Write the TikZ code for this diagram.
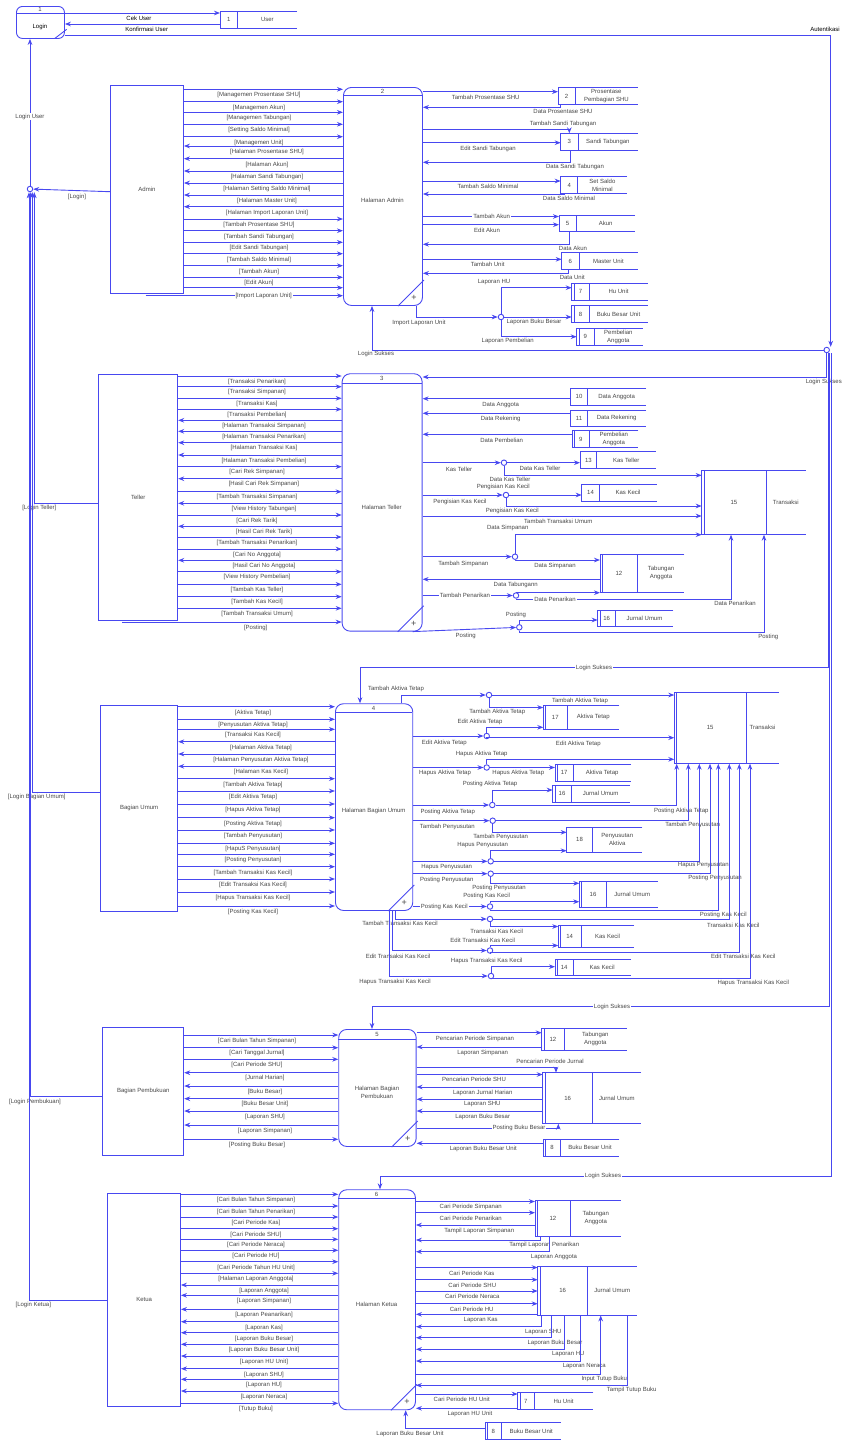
\documentclass[tikz,border=0pt]{standalone}
\usepackage{fontspec}
\setmainfont{Liberation Sans}
\usetikzlibrary{arrows.meta}
\definecolor{lc}{RGB}{72,72,240}
\definecolor{tc}{RGB}{70,70,70}
\tikzset{
 ln/.style={draw=lc, line width=0.9pt},
 fl/.style={ln, -{Stealth[length=6pt,width=4.6pt]}},
 flb/.style={ln, {Stealth[length=6pt,width=4.6pt]}-},
 txt/.style={font=\fontsize{6}{8}\selectfont, text=tc, inner sep=0pt},
 labw/.style={txt, fill=white, inner xsep=1pt, inner ysep=0.6pt},
 junc/.style={circle, draw=lc, line width=0.9pt, fill=white, minimum size=5.5pt, inner sep=0pt},
 ent/.style={draw=lc, line width=0.9pt, inner sep=0pt, font=\fontsize{6}{8}\selectfont, text=tc},
 procbox/.style={draw=lc, line width=0.9pt, rounded corners=8pt, inner sep=0pt},
}
\newcommand\lbl[3]{\node[txt] at (#1,#2) {#3};}
\newcommand\lblw[3]{\node[labw] at (#1,#2) {#3};}
\newcommand\dent[6]{\node[ent, minimum width={#4pt-#2pt}, minimum height={#5pt-#3pt}, anchor=north west] (#1) at (#2,#3) {#6};}
\newcommand\dproc[8]{%
 \node[procbox, minimum width={#4pt-#2pt}, minimum height={#5pt-#3pt}, anchor=north west] (#1) at (#2,#3) {};
 \draw[ln] (#2,#8) -- (#4,#8);
 \node[txt] at ({(#2+#4)/2},{(#3+#8)/2}) {#6};
 \node[txt, align=center] at ({(#2+#4)/2},{(#8+#5)/2}) {#7};
 \draw[ln] ({#4-24},{#5+1}) -- ({#4+2},{#5-25});
 \node[txt, font=\fontsize{9}{9}\selectfont] at ({#4-8},{#5-7}) {+};
}
\newcommand\dstore[9]{%
 \node[inner sep=0pt, minimum width={#4pt-#2pt}, minimum height={#5pt-#3pt}, anchor=north west] (#1) at (#2,#3) {};
 \draw[ln] (#4,#3) -- (#2,#3) -- (#2,#5) -- (#4,#5);
 \draw[ln] (#6,#3) -- (#6,#5);
 \ifnum#9=1 \draw[ln] ({#2+2.5},#3) -- ({#2+2.5},#5);\fi
 \node[txt] at ({(#2+#6)/2},{(#3+#5)/2}) {#7};
 \node[txt, align=center] at ({(#6+#4)/2},{(#3+#5)/2}) {#8};
}
\newcommand\bundle[7]{%
 \foreach \y/\t in {#3}{\draw[fl] (#1.east|-0,\y) -- (#2.west|-0,\y); \node[txt] at (#5,\y+#7) {\t};}
 \foreach \y/\t in {#4}{\draw[flb] (#1.east|-0,\y) -- (#2.west|-0,\y); \node[txt] at (#6,\y+#7) {\t};}
}
\begin{document}
\begin{tikzpicture}[x=1pt,y=-1pt]
\useasboundingbox (0,0) rectangle (843,1441);
% ===== Login
\node[procbox, rounded corners=6pt, minimum width=48pt, minimum height=32pt, anchor=north west] (login) at (16,6) {};
\draw[ln] (16,13) -- (64,13);
\lbl{40}{9.6}{1}
\node[txt, text=black] at (40,27) {Login};
\draw[ln] (55,38.3) -- (66.7,29.3);
\dstore{ds1}{220}{11}{297}{28}{237.7}{1}{User}{0}
\draw[fl] (login.east|-0,13) -- (ds1.west|-0,13);
\node[txt, text=black] at (139,18.7) {Cek User};
\draw[flb] (login.east|-0,24) -- (ds1.west|-0,24);
\node[txt, text=black] at (146.7,29.3) {Konfirmasi User};
\node[junc] (jL) at (30,189) {};
\node[junc] (jR) at (826.7,350) {};
\draw[fl] (login.east|-0,35) -| ([xshift=4pt]jR.north);
\node[txt, text=black] at (825,29.3) {Autentikasi};
\draw[fl] (jL) -- (jL|-login.south);
\lblw{30}{116.7}{Login User}

% ===== Admin
\dent{admin}{110}{85}{183}{293.3}{Admin}
\dproc{p2}{343}{87}{422}{305}{2}{Halaman Admin}{95}
\bundle{admin}{p2}{89.3/{[Managemen Prosentase SHU]},101.7/{[Managemen Akun]},112.3/{[Managemen Tabungan]},124.3/{[Setting Saldo Minimal]},136.7/{[Managemen Unit]},219/{[Tambah Prosentase SHU]},230.7/{[Tambah Sandi Tabungan]},242.3/{[Edit Sandi Tabungan]},253.7/{[Tambah Saldo Minimal]},265.7/{[Tambah Akun]},277.3/{[Edit Akun]},287.7/{}}{146/{[Halaman Prosentase SHU]},158.7/{[Halaman Akun]},171/{[Halaman Sandi Tabungan]},183/{[Halaman Setting Saldo Minimal]},195/{[Halaman Master Unit]},206.7/{[Halaman Import Laporan Unit]}}{259}{267}{6}
\coordinate (aimp) at (145.7,295.7);
\draw[fl] (aimp) -- (p2.west|-aimp);
\lblw{263.7}{295.7}{[Import Laporan Unit]}
\draw[fl] (admin.west|-0,191.7) -- (jL);
\lbl{77}{197}{[Login]}

\dstore{ds2}{558}{87.7}{637.7}{104.3}{575}{2}{Prosentase\\Pembagian SHU}{0}
\dstore{ds3}{560.7}{133.3}{637.7}{150.3}{578}{3}{Sandi Tabungan}{0}
\dstore{ds4}{560.7}{176.7}{627}{193.3}{577.7}{4}{Set Saldo\\Minimal}{0}
\dstore{ds5}{559}{215}{635}{231}{576.3}{5}{Akun}{0}
\dstore{ds6}{561.7}{252.7}{637.7}{269.3}{579}{6}{Master Unit}{0}
\dstore{ds7}{571.7}{283.3}{647.7}{300.3}{589.3}{7}{Hu Unit}{1}
\dstore{ds8}{571.7}{305.7}{647.7}{322.3}{589.3}{8}{Buku Besar Unit}{1}
\dstore{ds9}{576.7}{328}{642.7}{345}{594}{9}{Pembelian\\Anggota}{1}

\draw[fl] (p2.east|-0,91.7) -- (ds2.west|-0,91.7);
\lbl{485.7}{97.7}{Tambah Prosentase SHU}
\draw[flb] (p2.east|-0,107.3) -| (ds2.south-|560,0);
\lbl{563}{111.7}{Data Prosentase SHU}
\draw[fl] (p2.east|-0,129.3) -| (ds3.north-|569.3,0);
\lbl{563}{124}{Tambah Sandi Tabungan}
\draw[fl] (p2.east|-0,142.7) -- (ds3.west|-0,142.7);
\lbl{488}{148.7}{Edit Sandi Tabungan}
\draw[flb] (p2.east|-0,162.3) -| (ds3.south-|570.7,0);
\lbl{575}{166.7}{Data Sandi Tabungan}
\draw[fl] (p2.east|-0,181) -- (ds4.west|-0,181);
\lbl{488}{186.7}{Tambah Saldo Minimal}
\draw[flb] (p2.east|-0,194) -| (ds4.south-|564,0);
\lbl{569}{198.2}{Data Saldo Minimal}
\draw[fl] (p2.east|-0,216.5) -- (ds5.west|-0,216.5);
\lblw{491.7}{216.5}{Tambah Akun}
\draw[fl] (p2.east|-0,224.7) -- (ds5.west|-0,224.7);
\lbl{487}{230.7}{Edit Akun}
\draw[flb] (p2.east|-0,244.3) -| (ds5.south-|569,0);
\lbl{573}{248.7}{Data Akun}
\draw[fl] (p2.east|-0,259.3) -- (ds6.west|-0,259.3);
\lbl{487.7}{264.3}{Tambah Unit}
\draw[flb] (p2.east|-0,273.3) -| (ds6.south-|568.7,0);
\lbl{572.3}{277.7}{Data Unit}
\node[junc] (j1) at (501,317) {};
\draw[fl] (p2.south-|416,0) |- (j1);
\lbl{419}{322.7}{Import Laporan Unit}
\draw[fl] (j1) |- (ds7.west|-0,287.7);
\lbl{494}{281.7}{Laporan HU}
\draw[fl] (j1) -- (ds8.west|-j1);
\lbl{534}{322}{Laporan Buku Besar}
\draw[fl] (j1) |- (ds9.west|-0,336.7);
\lbl{507.7}{340.7}{Laporan Pembelian}
\draw[fl] (jR.west) -| (p2.south-|372,0);
\lbl{376}{354}{Login Sukses}

% ===== Teller
\dent{teller}{98.3}{374.3}{177.3}{620.3}{Teller}
\dproc{p3}{341.7}{373.3}{421.7}{630.7}{3}{Halaman Teller}{383.3}
\bundle{teller}{p3}{376/{[Transaksi Penarikan]},386.7/{[Transaksi Simpanan]},398.3/{[Transaksi Kas]},409.3/{[Transaksi Pembelian]},466.7/{[Cari Rek Simpanan]},491.7/{[Tambah Transaksi Simpanan]},515/{[Cari Rek Tarik]},537/{[Tambah Transaksi Penarikan]},549/{[Cari No Anggota]},571.7/{[View History Pembelian]},584.3/{[Tambah Kas Teller]},596.7/{[Tambah Kas Kecil]},608.3/{[Tambah Transaksi Umum]}}{420.3/{[Halaman Transaksi Simpanan]},431.3/{[Halaman Transaksi Penarikan]},442.7/{[Halaman Transaksi Kas]},455/{[Halaman Transaksi Pembelian]},478.7/{[Hasil Cari Rek Simpanan]},503.3/{[View History Tabungan]},526.3/{[Hasil Cari Rek Tarik]},560.3/{[Hasil Cari No Anggota]}}{257}{264}{5.7}
\coordinate (tpost) at (122.3,622);
\draw[fl] (tpost) -- (p3.west|-tpost);
\lbl{255.7}{627.7}{[Posting]}
\draw[fl] (teller.west|-0,503.3) -| ([xshift=4.3pt]jL.south);
\lbl{39.3}{507.7}{[Login Teller]}

\dstore{ds10}{570.7}{388.3}{646}{405}{587.3}{10}{Data Anggota}{0}
\dstore{ds11}{570.7}{410}{646}{426}{587.3}{11}{Data Rekening}{0}
\dstore{ds9b}{572.3}{430.7}{638.3}{447.7}{589.3}{9}{Pembelian\\Anggota}{1}
\dstore{ds13}{580}{451.7}{655.7}{468.7}{596.7}{13}{Kas Teller}{0}
\dstore{ds14}{581.7}{484.3}{656.7}{501}{599.3}{14}{Kas Kecil}{0}
\dstore{ds15}{701.7}{470}{805.7}{534.3}{766}{15}{Transaksi}{1}
\dstore{ds12}{600}{554.3}{684.3}{592.3}{637.7}{12}{Tabungan\\Anggota}{1}
\dstore{ds16}{597.7}{610}{673.3}{626.7}{615.7}{16}{Jurnal Umum}{1}

\draw[fl] (jR.south) |- (p3.east|-0,377);
\node[txt, anchor=east] at (842,381.7) {Login Sukses};
\draw[flb] (p3.east|-0,398.7) -- (ds10.west|-0,398.7);
\lbl{500.7}{404.7}{Data Anggota}
\draw[flb] (p3.east|-0,413.3) -- (ds11.west|-0,413.3);
\lbl{500.7}{419}{Data Rekening}
\draw[flb] (p3.east|-0,434.3) -- (ds9b.west|-0,434.3);
\lbl{501.7}{440.7}{Data Pembelian}
\node[junc] (j2) at (504,462.7) {};
\draw[fl] (p3.east|-j2) -- (j2);
\lbl{459}{469.7}{Kas Teller}
\draw[fl] (j2) -- (ds13.west|-j2);
\lbl{540}{468.7}{Data Kas Teller}
\draw[fl] (j2) |- (ds15.west|-0,475.3);
\lbl{510}{479.7}{Data Kas Teller}
\node[junc] (j3) at (506,495) {};
\draw[fl] (p3.east|-j3) -- (j3);
\lbl{460}{501.7}{Pengisian Kas Kecil}
\draw[fl] (j3) -- (ds14.west|-j3);
\lbl{503.3}{487.3}{Pengisian Kas Kecil}
\draw[fl] (j3) |- (ds15.west|-0,506);
\lbl{512.3}{510.7}{Pengisian Kas Kecil}
\draw[fl] (p3.east|-0,516) -- (ds15.west|-0,516);
\lbl{558.3}{521.7}{Tambah Transaksi Umum}
\node[junc] (j4) at (515,556.7) {};
\draw[fl] (p3.east|-j4) -- (j4);
\lbl{463.3}{563.7}{Tambah Simpanan}
\draw[fl] (j4) |- (ds15.south west);
\lbl{507.7}{527.7}{Data Simpanan}
\draw[fl] (j4) |- (ds12.west|-0,560);
\lbl{555}{566}{Data Simpanan}
\draw[flb] (p3.east|-0,579.3) -- (ds12.west|-0,579.3);
\lbl{515.7}{585}{Data Tabungann}
\node[junc] (j5) at (516,595.5) {};
\draw[fl] (p3.east|-j5) -- (j5);
\lblw{465}{595.5}{Tambah Penarikan}
\draw[fl] (j5) |- (ds12.south west);
\draw[fl] (j5) |- (731,599) -- (ds15.south-|731,0);
\lblw{555}{599}{Data Penarikan}
\lbl{735}{603.2}{Data Penarikan}
\node[junc] (j6) at (519.3,627.3) {};
\draw[fl] ([xshift=-10pt]p3.south east) -- (j6);
\lbl{465.7}{635.7}{Posting}
\draw[fl] (j6) |- (ds16.west|-0,620);
\lbl{516}{614.7}{Posting}
\draw[fl] (j6) |- (764,632.7) -- (ds15.south-|764,0);
\lbl{768.3}{637}{Posting}

% ===== Bagian Umum
\dent{umum}{100}{705}{177.3}{910.7}{Bagian Umum}
\dproc{p4}{335}{703.3}{412.3}{910}{4}{Halaman Bagian Umum}{712.7}
\bundle{umum}{p4}{706.7/{[Aktiva Tetap]},719.3/{[Penyusutan Aktiva Tetap]},729.3/{[Transaksi Kas Kecil]},778.7/{[Tambah Aktiva Tetap]},791/{[Edit Aktiva Tetap]},804/{[Hapus Aktiva Tetap]},817.7/{[Posting Aktiva Tetap]},830/{[Tambah Penyusutan]},843.3/{[HapuS Penyusutan]},854.3/{[Posting Penyusutan]},866.7/{[Tambah Transaksi Kas Kecil]},879/{[Edit Transaksi Kas Kecil]},892/{[Hapus Transaksi Kas Kecil]},906/{[Posting Kas Kecil]}}{741.7/{[Halaman Aktiva Tetap]},754/{[Halaman Penyusutan Aktiva Tetap]},766.3/{[Halaman Kas Kecil]}}{253}{261}{5.8}
\draw[fl] (umum.west|-0,792) -| ([xshift=2.3pt]jL.south);
\lbl{36.7}{797}{[Login Bagian Umum]}
\draw[fl] ([xshift=1.5pt]jR.south) |- (360,667.7) -- (p4.north-|360,0);
\lblw{594}{667.7}{Login Sukses}

\dstore{ds15b}{674.3}{692.3}{779}{763.3}{746}{15}{Transaksi}{1}
\dstore{ds17}{543.3}{705.7}{619.3}{729}{567.3}{17}{Aktiva Tetap}{1}
\dstore{ds17b}{555}{764.3}{631}{781}{573.3}{17}{Aktiva Tetap}{1}
\dstore{ds16b}{552.7}{785.3}{630}{802.3}{571.3}{16}{Jurnal Umum}{1}
\dstore{ds18}{566.7}{827.3}{642.3}{852.3}{592.3}{18}{Penyusutan\\Aktiva}{0}
\dstore{ds16c}{579.3}{881}{657.7}{907.3}{606.7}{16}{Jurnal Umum}{1}
\dstore{ds14b}{558.3}{925}{634}{947.7}{581}{14}{Kas Kecil}{1}
\dstore{ds14c}{555}{959}{631}{975}{573.3}{14}{Kas Kecil}{1}

\node[junc] (j7) at (489,695) {};
\draw[fl] (p4.north-|401.7,0) |- (j7);
\lbl{396}{689}{Tambah Aktiva Tetap}
\draw[fl] (j7) -- (ds15b.west|-j7);
\lbl{580}{700.7}{Tambah Aktiva Tetap}
\draw[fl] (j7) |- (ds17.west|-0,707.5);
\lbl{497.3}{712}{Tambah Aktiva Tetap}
\node[junc] (j8) at (486.7,736) {};
\draw[fl] (p4.east|-j8) -- (j8);
\lbl{444.3}{742.7}{Edit Aktiva Tetap}
\draw[fl] (j8) |- (ds17.west|-0,727.3);
\lbl{480}{721.7}{Edit Aktiva Tetap}
\draw[fl] (j8) |- (ds15b.west|-0,737.7);
\lbl{578.3}{744}{Edit Aktiva Tetap}
\node[junc] (j9) at (486.7,767.5) {};
\draw[fl] (p4.east|-j9) -- (j9);
\lbl{445}{773.3}{Hapus Aktiva Tetap}
\draw[fl] (j9) |- (ds15b.west|-0,759.3);
\lbl{481.7}{753.7}{Hapus Aktiva Tetap}
\draw[fl] (j9) -- (ds17b.west|-j9);
\lbl{518.3}{773}{Hapus Aktiva Tetap}
\node[junc] (j10) at (492.3,805) {};
\draw[fl] (p4.east|-j10) -- (j10);
\lbl{447.7}{811.7}{Posting Aktiva Tetap}
\draw[fl] (j10) |- (ds16b.west|-0,790);
\lbl{490}{783.7}{Posting Aktiva Tetap}
\draw[fl] (j10) -| (ds15b.south-|676.7,0);
\lbl{681.3}{810.7}{Posting Aktiva Tetap}
\node[junc] (j11) at (492.7,820.7) {};
\draw[fl] (p4.east|-j11) -- (j11);
\lbl{447.3}{826.7}{Tambah Penyusutan}
\draw[fl] (j11) -| (ds15b.south-|688.3,0);
\lbl{692.7}{824.6}{Tambah Penyusutan}
\draw[fl] (j11) |- (ds18.west|-0,832.3);
\lbl{500.7}{836.7}{Tambah Penyusutan}
\node[junc] (j12) at (490.7,861.3) {};
\draw[fl] (p4.east|-j12) -- (j12);
\lbl{446.7}{866.7}{Hapus Penyusutan}
\draw[fl] (j12) |- (ds18.west|-0,850.7);
\lbl{482.7}{845}{Hapus Penyusutan}
\draw[fl] (j12) -| (ds15b.south-|699.3,0);
\lbl{703.3}{865.3}{Hapus Penyusutan}
\node[junc] (j13) at (490.7,873.7) {};
\draw[fl] (p4.east|-j13) -- (j13);
\lbl{446.7}{880}{Posting Penyusutan}
\draw[fl] (j13) -| (ds15b.south-|710,0);
\lbl{715}{878}{Posting Penyusutan}
\draw[fl] (j13) |- (ds16c.west|-0,883.3);
\lbl{499}{888}{Posting Penyusutan}
\node[junc] (j14) at (490,906.5) {};
\draw[fl] (p4.east|-j14) -- (j14);
\lblw{444.3}{906.5}{Posting Kas Kecil}
\draw[fl] (j14) |- (ds16c.west|-0,901.7);
\lbl{486.7}{895.7}{Posting Kas Kecil}
\draw[fl] (j14) |- (718.3,910.7) -- (ds15b.south-|718.3,0);
\lbl{723.3}{915}{Posting Kas Kecil}
\node[junc] (j15) at (490,919) {};
\draw[fl] (p4.south-|395,0) |- (j15);
\lbl{400}{923.5}{Tambah Transaksi Kas Kecil}
\draw[fl] (j15) -| (ds15b.south-|729.3,0);
\lbl{733.3}{925.7}{Transaksi Kas Kecil}
\draw[fl] (j15) |- (ds14b.west|-0,926.5);
\lbl{496.7}{931}{Transaksi Kas Kecil}
\node[junc] (j16) at (490,950.5) {};
\draw[fl] (p4.south-|392.2,0) |- (j16);
\lbl{398}{956.7}{Edit Transaksi Kas Kecil}
\draw[fl] (j16) |- (ds14b.west|-0,945.5);
\lbl{482.7}{940.7}{Edit Transaksi Kas Kecil}
\draw[fl] (j16) |- (739.3,952) -- (ds15b.south-|739.3,0);
\lbl{743.3}{956.7}{Edit Transaksi Kas Kecil}
\node[junc] (j17) at (491,976) {};
\draw[fl] (p4.south-|389.4,0) |- (j17);
\lbl{395}{981.7}{Hapus Transaksi Kas Kecil}
\draw[fl] (j17) |- (ds14c.west|-0,966.7);
\lbl{486.7}{960.7}{Hapus Transaksi Kas Kecil}
\draw[fl] (j17) |- (750,978.3) -- (ds15b.south-|750,0);
\lbl{753.3}{983.3}{Hapus Transaksi Kas Kecil}

% ===== Bagian Pembukuan
\dent{pemb}{102.3}{1026.7}{183.3}{1155}{Bagian Pembukuan}
\dproc{p5}{338.3}{1029}{415.7}{1146}{5}{Halaman Bagian\\Pembukuan}{1039}
\bundle{pemb}{p5}{1035/{[Cari Bulan Tahun Simpanan]},1047.7/{[Cari Tanggal Jurnal]},1059.3/{[Cari Periode SHU]},1139.3/{[Posting Buku Besar]}}{1072.7/{[Jurnal Harian]},1086/{[Buku Besar]},1098.7/{[Buku Besar Unit]},1111/{[Laporan SHU]},1125/{[Laporan Simpanan]}}{257}{265}{5.6}
\draw[fl] (pemb.west|-0,1096.7) -| ([xshift=0.7pt]jL.south);
\lbl{35}{1101.7}{[Login Pembukuan]}
\draw[fl] ([xshift=3pt]jR.south) |- (372,1006.7) -- (p5.north-|372,0);
\lblw{612}{1006.7}{Login Sukses}

\dstore{ds12b}{541.7}{1028.3}{626.7}{1050}{564}{12}{Tabungan\\Anggota}{1}
\dstore{ds16d}{542.7}{1072.7}{641}{1123.3}{592.7}{16}{Jurnal Umum}{1}
\dstore{ds8b}{543.3}{1139.3}{619.3}{1156}{560.7}{8}{Buku Besar Unit}{1}
\draw[fl] (p5.east|-0,1032.7) -- (ds12b.west|-0,1032.7);
\lbl{475}{1039}{Pencarian Periode Simpanan}
\draw[flb] (p5.east|-0,1047) -- (ds12b.west|-0,1047);
\lbl{482.7}{1052.7}{Laporan Simpanan}
\draw[fl] (p5.east|-0,1067.3) -| (ds16d.north-|556,0);
\lbl{550}{1061.7}{Pencarian Periode Jurnal}
\draw[fl] (p5.east|-0,1074.5) -- (ds16d.west|-0,1074.5);
\lbl{474}{1079.6}{Pencarian Periode SHU}
\draw[flb] (p5.east|-0,1087) -- (ds16d.west|-0,1087);
\lbl{482.7}{1092.7}{Laporan Jurnal Harian}
\draw[flb] (p5.east|-0,1099.3) -- (ds16d.west|-0,1099.3);
\lbl{482.3}{1104.5}{Laporan SHU}
\draw[flb] (p5.east|-0,1111) -- (ds16d.west|-0,1111);
\lbl{482.7}{1116.7}{Laporan Buku Besar}
\draw[fl] (p5.east|-0,1128.3) -| (ds16d.south-|558.3,0);
\lblw{519}{1128.3}{Posting Buku Besar}
\draw[flb] (p5.east|-0,1143.3) -- (ds8b.west|-0,1143.3);
\lbl{483.3}{1149.3}{Laporan Buku Besar Unit}

% ===== Ketua
\dent{ketua}{107.3}{1192.7}{180}{1406}{Ketua}
\dproc{p6}{338.3}{1189.3}{415}{1409.3}{6}{Halaman Ketua}{1198.7}
\bundle{ketua}{p6}{1194.3/{[Cari Bulan Tahun Simpanan]},1206/{[Cari Bulan Tahun Penarikan]},1217/{[Cari Periode Kas]},1228.7/{[Cari Periode SHU]},1239.3/{[Cari Periode Neraca]},1250.3/{[Cari Periode HU]},1261.7/{[Cari Periode Tahun HU Unit]},1273.3/{[Halaman Laporan Anggota]},1403.3/{[Tutup Buku]}}{1285/{[Laporan Anggota]},1295.3/{[Laporan Simpanan]},1309.3/{[Laporan Peanarikan]},1321.7/{[Laporan Kas]},1332.7/{[Laporan Buku Besar]},1344.3/{[Laporan Buku Besar Unit]},1356/{[Laporan HU Unit]},1368.7/{[Laporan SHU]},1379.3/{[Laporan HU]},1391/{[Laporan Neraca]}}{256}{264}{5.8}
\draw[fl] (ketua.west|-0,1300) -| ([xshift=-1pt]jL.south);
\lbl{33.3}{1305}{[Login Ketua]}
\draw[fl] ([xshift=4.5pt]jR.south) |- (380,1176) -- (p6.north-|380,0);
\lblw{603}{1176}{Login Sukses}

\dstore{ds12c}{535}{1200.3}{620.7}{1236}{570.7}{12}{Tabungan\\Anggota}{1}
\dstore{ds16e}{537.7}{1266}{636.7}{1315}{587.7}{16}{Jurnal Umum}{1}
\dstore{ds7c}{517.7}{1392.7}{593.3}{1409.3}{534}{7}{Hu Unit}{1}
\dstore{ds8c}{485}{1422.7}{560.7}{1439.3}{501.7}{8}{Buku Besar Unit}{1}
\draw[fl] (p6.east|-0,1201.5) -- (ds12c.west|-0,1201.5);
\lbl{470.7}{1206.9}{Cari Periode Simpanan}
\draw[fl] (p6.east|-0,1212.7) -- (ds12c.west|-0,1212.7);
\lbl{470.7}{1218.7}{Cari Periode Penarikan}
\draw[flb] (p6.east|-0,1225) -- (ds12c.west|-0,1225);
\lbl{479.3}{1230.7}{Tampil Laporan Simpanan}
\draw[flb] (p6.east|-0,1240) -| (ds12c.south-|540.7,0);
\lbl{544.3}{1245}{Tampil Laporan Penarikan}
\draw[flb] (p6.east|-0,1251.7) -| (ds12c.south-|549.3,0);
\lbl{554}{1256.7}{Laporan Anggota}
\draw[fl] (p6.east|-0,1267.5) -- (ds16e.west|-0,1267.5);
\lbl{471.7}{1272.9}{Cari Periode Kas}
\draw[fl] (p6.east|-0,1279.7) -- (ds16e.west|-0,1279.7);
\lbl{472.3}{1285.3}{Cari Periode SHU}
\draw[fl] (p6.east|-0,1291) -- (ds16e.west|-0,1291);
\lbl{472.3}{1296.7}{Cari Periode Neraca}
\draw[fl] (p6.east|-0,1303.7) -- (ds16e.west|-0,1303.7);
\lbl{471.7}{1309.3}{Cari Periode HU}
\draw[flb] (p6.east|-0,1314.3) -- (ds16e.west|-0,1314.3);
\lbl{480.7}{1319.7}{Laporan Kas}
\draw[flb] (p6.east|-0,1326.7) -| (ds16e.south-|541,0);
\lbl{543.3}{1331.7}{Laporan SHU}
\draw[flb] (p6.east|-0,1337.7) -| (ds16e.south-|551,0);
\lbl{555}{1342.7}{Laporan Buku Besar}
\draw[flb] (p6.east|-0,1349.3) -| (ds16e.south-|564.3,0);
\lbl{568.3}{1353.9}{Laporan HU}
\draw[flb] (p6.east|-0,1361) -| (ds16e.south-|580,0);
\lbl{584.3}{1366}{Laporan Neraca}
\draw[fl] (p6.east|-0,1374.3) -| (ds16e.south-|600.7,0);
\lbl{604.3}{1378.7}{Input Tutup Buku}
\draw[flb] (p6.east|-0,1385.3) -| (ds16e.south-|627.3,0);
\lbl{631.7}{1389.5}{Tampil Tutup Buku}
\draw[fl] (p6.east|-0,1394) -- (ds7c.west|-0,1394);
\lbl{461.7}{1399.3}{Cari Periode HU Unit}
\draw[flb] (p6.east|-0,1408.3) -- (ds7c.west|-0,1408.3);
\lbl{470}{1413.7}{Laporan HU Unit}
\draw[fl] (ds8c.west|-0,1428.7) -| (p6.south-|405.7,0);
\lbl{410}{1433.7}{Laporan Buku Besar Unit}
\end{tikzpicture}
\end{document}
